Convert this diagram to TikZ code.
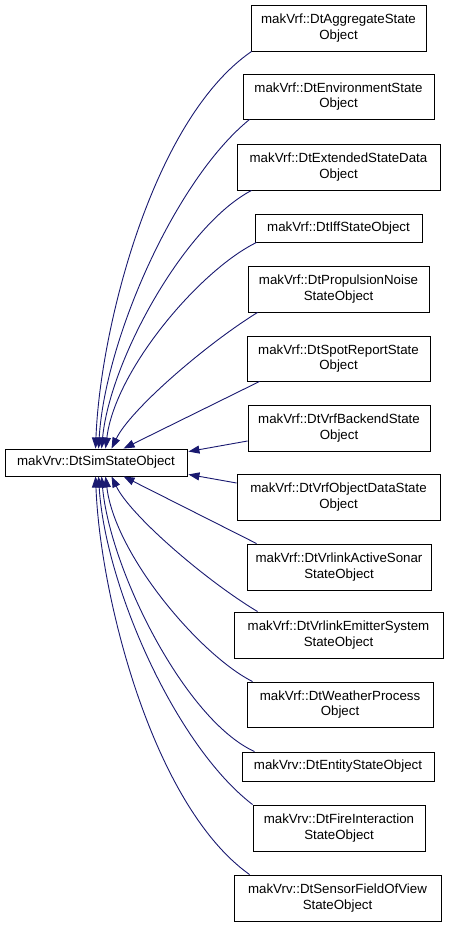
\documentclass[tikz,border=0pt]{standalone}
\usepackage{fontspec}
\setmainfont{Liberation Sans}
\usetikzlibrary{arrows.meta,calc}
\definecolor{midblue}{HTML}{191970}
\begin{document}
\begin{tikzpicture}[x=1pt,y=-1pt,
  cls/.style={draw=black, line width=0.9pt, fill=white, inner sep=0pt, align=center,
    font=\fontsize{13.3}{15.5}\selectfont},
  edge/.style={draw=midblue, line width=0.9pt, {Triangle[length=11pt,width=8pt]}-}]
\useasboundingbox (0,0) rectangle (448,925);
% base
\node[cls, minimum width=182pt, minimum height=27pt] (base) at (96,462.5) {makVrv::DtSimStateObject};
% derived
\node[cls, minimum width=175pt, minimum height=46pt] (n1) at (338.5,28) {makVrf::DtAggregateState\\Object};
\node[cls, minimum width=191pt, minimum height=45pt] (n2) at (338.5,96.5) {makVrf::DtEnvironmentState\\Object};
\node[cls, minimum width=203pt, minimum height=46pt] (n3) at (338.5,167) {makVrf::DtExtendedStateData\\Object};
\node[cls, minimum width=167pt, minimum height=28pt] (n4) at (338.5,228) {makVrf::DtIffStateObject};
\node[cls, minimum width=181pt, minimum height=46pt] (n5) at (338.5,289) {makVrf::DtPropulsionNoise\\StateObject};
\node[cls, minimum width=183pt, minimum height=45pt] (n6) at (338.5,358.5) {makVrf::DtSpotReportState\\Object};
\node[cls, minimum width=182pt, minimum height=46pt] (n7) at (339,428) {makVrf::DtVrfBackendState\\Object};
\node[cls, minimum width=203pt, minimum height=46pt] (n8) at (338.5,497) {makVrf::DtVrfObjectDataState\\Object};
\node[cls, minimum width=184pt, minimum height=46pt] (n9) at (339,567) {makVrf::DtVrlinkActiveSonar\\StateObject};
\node[cls, minimum width=209pt, minimum height=46pt] (n10) at (338.5,635) {makVrf::DtVrlinkEmitterSystem\\StateObject};
\node[cls, minimum width=186pt, minimum height=45pt] (n11) at (340,704.5) {makVrf::DtWeatherProcess\\Object};
\node[cls, minimum width=192pt, minimum height=29pt] (n12) at (338,766.5) {makVrv::DtEntityStateObject};
\node[cls, minimum width=172pt, minimum height=46pt] (n13) at (339,828) {makVrv::DtFireInteraction\\StateObject};
\node[cls, minimum width=207pt, minimum height=46pt] (n14) at (337.5,898) {makVrv::DtSensorFieldOfView\\StateObject};
% edges (tip at base)
\draw[edge] ($(base.north west)+(91,0)$) .. controls (100,330) and (152,120) .. ($(n1.south west)+(1,0)$);
\draw[edge] ($(base.north west)+(94,0)$) .. controls (105,340) and (175,180) .. ($(n2.south west)+(7,0)$);
\draw[edge] ($(base.north west)+(97,0)$) .. controls (110,360) and (185,225) .. ($(n3.south west)+(15,0)$);
\draw[edge] ($(base.north west)+(101,0)$) .. controls (115,370) and (200,270) .. ($(n4.south west)+(2,0)$);
\draw[edge] ($(base.north west)+(107,0)$) .. controls (130,410) and (205,345) .. ($(n5.south west)+(10,0)$);
\draw[edge] ($(base.north west)+(119,0)$) -- ($(n6.south west)+(13,0)$);
\draw[edge] ($(base.north east)+(1,3)$) -- ($(n7.west)+(0,13)$);
\draw[edge] ($(base.south east)+(1,-2)$) -- ($(n8.west)+(0,-14)$);
\draw[edge] ($(base.south west)+(119,0)$) -- ($(n9.north west)+(10,0)$);
\draw[edge] ($(base.south west)+(107,0)$) .. controls (130,515) and (205,580) .. ($(n10.north west)+(24,0)$);
\draw[edge] ($(base.south west)+(101,0)$) .. controls (115,555) and (200,655) .. ($(n11.north west)+(6,0)$);
\draw[edge] ($(base.south west)+(97,0)$) .. controls (110,570) and (185,720) .. ($(n12.north west)+(13,0)$);
\draw[edge] ($(base.south west)+(94,0)$) .. controls (105,585) and (175,745) .. ($(n13.north west)+(0,0)$);
\draw[edge] ($(base.south west)+(91,0)$) .. controls (100,595) and (152,805) .. ($(n14.north west)+(16,0)$);
\end{tikzpicture}
\end{document}
